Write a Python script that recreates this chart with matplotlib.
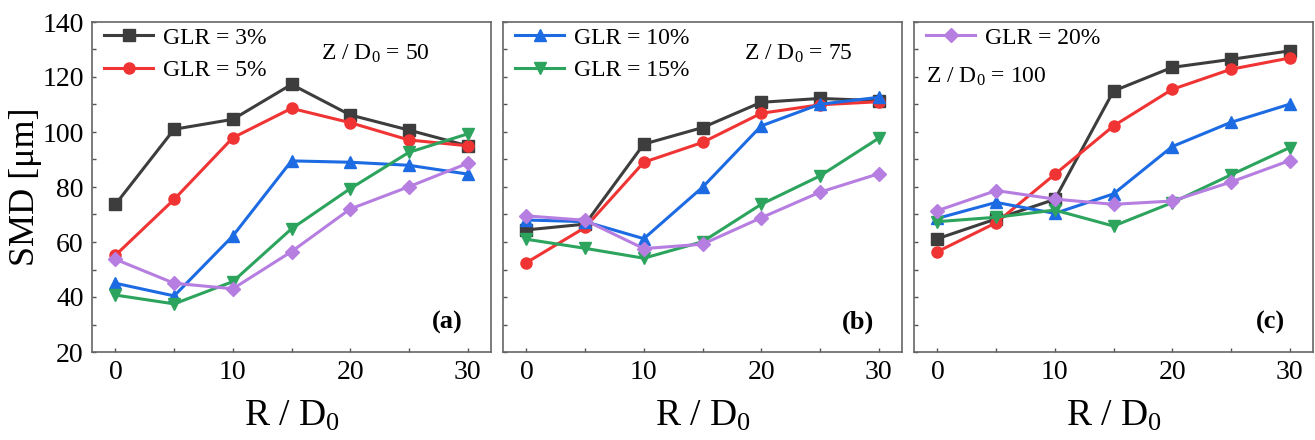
import matplotlib
matplotlib.use("Agg")
import matplotlib.pyplot as plt
from matplotlib.ticker import MultipleLocator

plt.rcParams['font.family'] = ['Liberation Serif', 'DejaVu Serif']
plt.rcParams['mathtext.fontset'] = 'custom'
plt.rcParams['mathtext.rm'] = 'Liberation Serif'
plt.rcParams['mathtext.it'] = 'Liberation Serif:italic'
plt.rcParams['mathtext.bf'] = 'Liberation Serif:bold'

r_d0 = [0, 5, 10, 15, 20, 25, 30]
glr_labels = ["GLR = 3%", "GLR = 5%", "GLR = 10%", "GLR = 15%", "GLR = 20%"]

# SMD values per GLR at Z/D0 = 50
smd_z50 = [
    [73.7, 101.0, 104.6, 117.3, 106.2, 100.7, 95.0],
    [55.2, 75.5, 97.9, 108.6, 103.4, 97.1, 95.0],
    [45.0, 40.4, 62.2, 89.5, 89.0, 87.9, 84.7],
    [40.7, 37.5, 45.6, 64.8, 79.4, 92.6, 99.3],
    [53.7, 45.0, 43.0, 56.5, 72.0, 80.1, 88.6],
]
# Z/D0 = 75
smd_z75 = [
    [64.4, 66.5, 95.6, 101.6, 110.8, 112.2, 111.4],
    [52.5, 65.3, 89.0, 96.2, 106.8, 109.9, 111.0],
    [68.0, 67.4, 61.2, 79.9, 102.2, 110.1, 112.6],
    [61.0, 57.7, 54.1, 60.1, 73.7, 84.0, 97.7],
    [69.5, 67.9, 57.6, 59.2, 68.8, 78.1, 84.8],
]
# Z/D0 = 100
smd_z100 = [
    [61.2, 68.4, 75.5, 114.9, 123.5, 126.4, 129.5],
    [56.5, 67.0, 84.6, 102.2, 115.5, 122.8, 126.9],
    [68.6, 74.4, 70.4, 77.5, 94.7, 103.5, 110.1],
    [67.4, 69.0, 71.6, 65.8, 74.3, 84.4, 94.3],
    [71.4, 78.7, 75.6, 73.7, 74.9, 81.8, 89.6],
]

colors = ["#3d3d3d", "#f03434", "#1c6be3", "#2da45e", "#b67ee0"]
markers = ["s", "o", "^", "v", "D"]
msizes = [8, 8, 9, 9, 7.5]

panels = [smd_z50, smd_z75, smd_z100]
z_text = [r"Z / D$_0$ = 50", r"Z / D$_0$ = 75", r"Z / D$_0$ = 100"]
z_pos = [(0.575, 0.905), (0.605, 0.905), (0.03, 0.835)]
tags = ["(a)", "(b)", "(c)"]
legend_sets = [[0, 1], [2, 3], [4]]

fig = plt.figure(figsize=(13.15, 4.4), dpi=100)
lefts = [92 / 1315, 503 / 1315, 914 / 1315]
width = 399 / 1315

for k, data in enumerate(panels):
    ax = fig.add_axes([lefts[k], 0.2, width, 0.75])
    lines = []
    for i, ys in enumerate(data):
        ln, = ax.plot(r_d0, ys, color=colors[i], marker=markers[i], ms=msizes[i],
                      lw=2.2, label=glr_labels[i])
        lines.append(ln)
    ax.set_xlim(-2, 32)
    ax.set_ylim(20, 140)
    ax.xaxis.set_major_locator(MultipleLocator(10))
    ax.xaxis.set_minor_locator(MultipleLocator(5))
    ax.yaxis.set_major_locator(MultipleLocator(20))
    ax.yaxis.set_minor_locator(MultipleLocator(10))
    ax.tick_params(which='both', direction='in', length=3, width=1, color='#555555',
                   labelsize=20, pad=6)
    if k > 0:
        ax.tick_params(axis='y', labelleft=False)
    for s in ax.spines.values():
        s.set_color('#666666')
        s.set_linewidth(1.2)
    ax.set_xlabel(r"R / D$_0$", fontsize=27, labelpad=10)
    if k == 0:
        ax.set_ylabel("SMD [μm]", fontsize=26)
        ax.yaxis.set_label_coords(-0.125, 0.5)
    ax.legend(handles=[lines[i] for i in legend_sets[k]], loc='upper left',
              frameon=False, fontsize=17, handlelength=2.1, handletextpad=0.4,
              labelspacing=0.45, borderaxespad=0.1, bbox_to_anchor=(0.0, 1.02))
    ax.text(z_pos[k][0], z_pos[k][1], z_text[k], transform=ax.transAxes,
            fontsize=17, va='center')
    ax.text(0.93, 0.09, tags[k], transform=ax.transAxes, fontsize=19,
            fontweight='bold', ha='right', va='center')

fig.savefig("out.png", dpi=100)
